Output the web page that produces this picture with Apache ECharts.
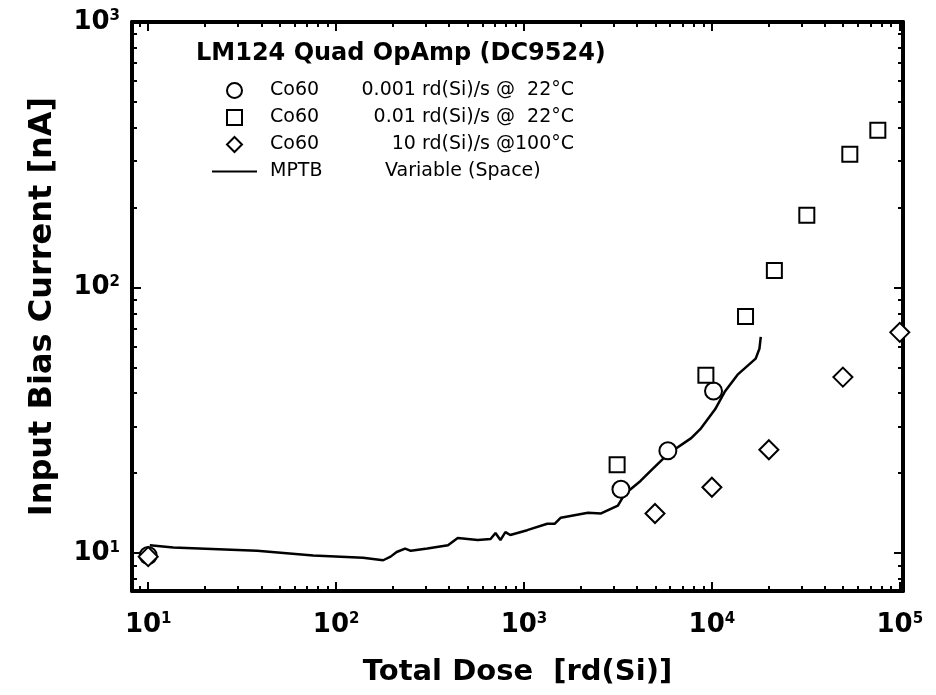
<!DOCTYPE html>
<html>
<head>
<meta charset="utf-8">
<script src="https://cdn.jsdelivr.net/npm/echarts@6/dist/echarts.min.js"></script>
<style>
  html, body { margin: 0; padding: 0; background: #fff; }
  #chart { width: 936px; height: 695px; }
</style>
</head>
<body>
<div id="chart"></div>
<script>
var chart = echarts.init(document.getElementById('chart'));

// Co60 0.001 rd(Si)/s @ 22C
var circleDose = [10, 3280, 5830, 10200];
var circleCurr = [9.8, 17.4, 24.3, 40.8];
// Co60 0.01 rd(Si)/s @ 22C
var squareDose = [3130, 9290, 15100, 21500, 32000, 54200, 76400];
var squareCurr = [21.5, 46.8, 77.8, 116, 187, 318, 391];
// Co60 10 rd(Si)/s @ 100C
var diamondDose = [10, 4980, 10000, 20100, 49800, 100000];
var diamondCurr = [9.7, 14.1, 17.7, 24.5, 46.0, 67.8];
// MPTB variable (space)
var mptbDose = [10.2, 13.6, 38, 75.5, 139, 178, 195, 210, 233, 250, 306, 394, 444, 567, 664, 705, 749, 796, 845,
                1040, 1330, 1460, 1570, 2190, 2570, 3160, 3440, 4170, 4720, 5830, 7760, 8750, 10400, 11700,
                13700, 17100, 17900, 18200];
var mptbCurr = [10.7, 10.5, 10.2, 9.8, 9.6, 9.4, 9.7, 10.1, 10.4, 10.2, 10.4, 10.7, 11.4, 11.2, 11.3, 11.9, 11.2, 12.0, 11.7,
                12.2, 12.9, 12.9, 13.6, 14.2, 14.1, 15.1, 16.7, 18.7, 20.4, 23.6, 27.1, 29.5, 34.8, 40.5,
                47.0, 54.0, 58.8, 65.2];

var xTicks = [10, 100, 1000, 10000, 100000];
var yTicks = [10, 100, 1000];

var legendText = {
    'c1': ['Co60', '0.001 rd(Si)/s @  22°C'],
    'c2': ['Co60', '0.01 rd(Si)/s @  22°C'],
    'c3': ['Co60', '10 rd(Si)/s @100°C'],
    'c4': ['MPTB', 'Variable (Space)']
};

function zip(a, b) {
    return a.map(function (v, i) { return [v, b[i]]; });
}

function powLabel(ticks) {
    return function (v) {
        for (var i = 0; i < ticks.length; i++) {
            if (Math.abs(v - ticks[i]) / ticks[i] < 1e-6) {
                return '{b|10}{s|' + Math.round(Math.log10(v)) + '}';
            }
        }
        return '';
    };
}

var font = '"DejaVu Sans", "Liberation Sans", sans-serif';
var rich = {
    b: { fontFamily: font, fontSize: 26, fontWeight: 'bold', color: '#000' },
    s: { fontFamily: font, fontSize: 15, fontWeight: 'bold', color: '#000', padding: [0, 0, 11, 0] }
};

var xMin = 8.2, xMax = 104000, yMin = 7.2, yMax = 1000;

function axisBase(min, max) {
    return {
        type: 'log',
        logBase: 10,
        min: min,
        max: max,
        axisLine: { show: true, onZero: false, lineStyle: { color: '#000', width: 4 } },
        axisTick: { show: true, inside: true, length: 9, lineStyle: { color: '#000', width: 2 } },
        minorTick: { show: true, splitNumber: 9, length: 5, lineStyle: { color: '#000', width: 2 } },
        splitLine: { show: false },
        minorSplitLine: { show: false }
    };
}

var xBottom = axisBase(xMin, xMax);
xBottom.position = 'bottom';
xBottom.name = 'Total Dose  [rd(Si)]';
xBottom.nameLocation = 'middle';
xBottom.nameGap = 67;
xBottom.nameTextStyle = { fontFamily: font, fontSize: 29, fontWeight: 'bold', color: '#000' };
xBottom.axisLabel = { show: true, margin: 21, formatter: powLabel(xTicks), rich: rich, showMinLabel: true, showMaxLabel: true };

var xTop = axisBase(xMin, xMax);
xTop.position = 'top';
xTop.axisLabel = { show: false };

var yLeft = axisBase(yMin, yMax);
yLeft.position = 'left';
yLeft.name = 'Input Bias Current [nA]';
yLeft.nameLocation = 'middle';
yLeft.nameGap = 73;
yLeft.nameTextStyle = { fontFamily: font, fontSize: 32, fontWeight: 'bold', color: '#000' };
yLeft.axisLabel = { show: true, margin: 12, formatter: powLabel(yTicks), rich: rich, showMinLabel: true, showMaxLabel: true };

var yRight = axisBase(yMin, yMax);
yRight.position = 'right';
yRight.axisLabel = { show: false };

var hollow = { color: '#fff', borderColor: '#000', borderWidth: 2, opacity: 1 };

var option = {
    animation: false,
    backgroundColor: '#fff',
    title: {
        text: 'LM124 Quad OpAmp (DC9524)',
        left: 191,
        top: 37,
        textStyle: { fontFamily: font, fontSize: 24, fontWeight: 'bold', color: '#000' }
    },
    legend: {
        orient: 'vertical',
        left: 212,
        top: 80,
        itemWidth: 45,
        itemHeight: 15,
        itemGap: 6,
        padding: 0,
        data: [
            { name: 'c1' },
            { name: 'c2', icon: 'path://M0,0L10,0L10,10L0,10Z', itemStyle: hollow },
            { name: 'c3', icon: 'path://M5,0L10,5L5,10L0,5Z', itemStyle: hollow },
            { name: 'c4', icon: 'path://M0,0L45,0L45,2L0,2Z', itemStyle: { color: '#000' } }
        ],
        formatter: function (name) {
            var t = legendText[name];
            if (name === 'c4') {
                return '{a|' + t[0] + '}{p|}{c|' + t[1] + '}';
            }
            return '{a|' + t[0] + '}{r|' + t[1] + '}';
        },
        textStyle: {
            fontFamily: font, fontSize: 19, color: '#000', lineHeight: 21,
            rich: {
                a: { fontFamily: font, fontSize: 19, color: '#000', width: 82, padding: [0, 0, 0, 8] },
                r: { fontFamily: font, fontSize: 19, color: '#000', width: 222, align: 'right' },
                p: { width: 33 },
                c: { fontFamily: font, fontSize: 19, color: '#000', width: 189, align: 'left' }
            }
        }
    },
    grid: { left: 132, right: 33, top: 22, bottom: 104 },
    xAxis: [xBottom, xTop],
    yAxis: [yLeft, yRight],
    series: [
        {
            name: 'c1', type: 'scatter', symbol: 'emptyCircle', symbolSize: 17,
            itemStyle: { color: '#000', borderWidth: 2, opacity: 1 },
            data: zip(circleDose, circleCurr), z: 3
        },
        {
            name: 'c2', type: 'scatter', symbol: 'emptyRect', symbolSize: 15,
            itemStyle: { color: '#000', borderWidth: 2, opacity: 1 },
            data: zip(squareDose, squareCurr), z: 3
        },
        {
            name: 'c3', type: 'scatter', symbol: 'emptyDiamond', symbolSize: 19,
            itemStyle: { color: '#000', borderWidth: 2, opacity: 1 },
            data: zip(diamondDose, diamondCurr), z: 3
        },
        {
            name: 'c4', type: 'line', symbol: 'none', smooth: false,
            lineStyle: { color: '#000', width: 2.5 },
            itemStyle: { color: '#000' },
            data: zip(mptbDose, mptbCurr), z: 2
        }
    ]
};

chart.setOption(option);
</script>
</body>
</html>
